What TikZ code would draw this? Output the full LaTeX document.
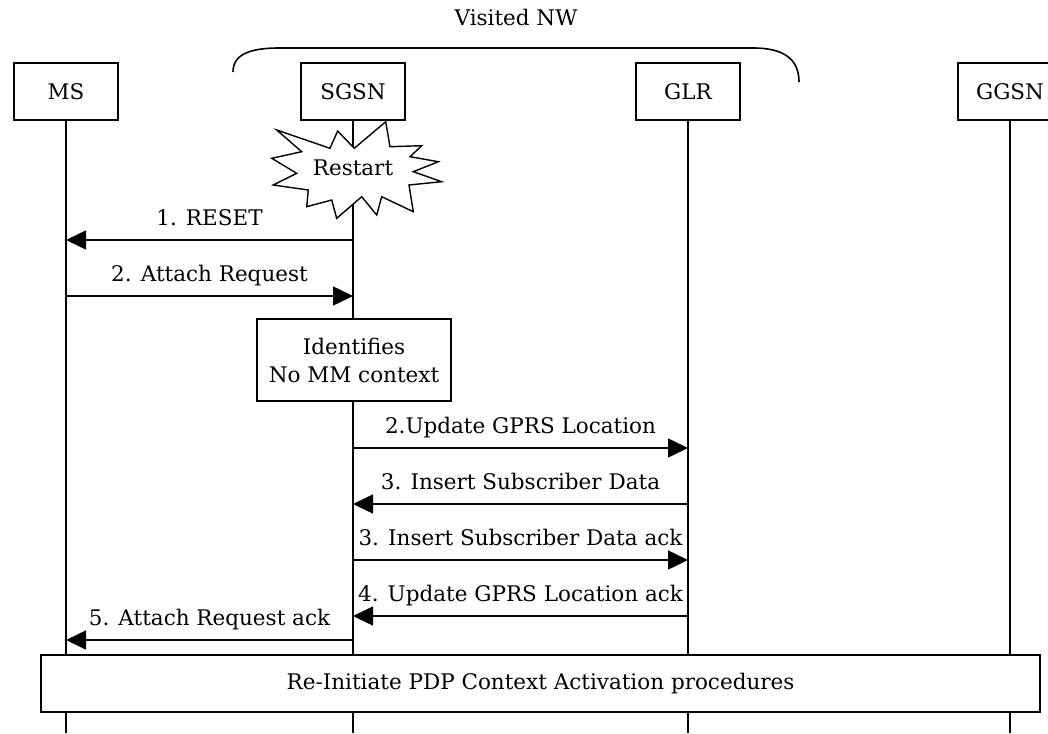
\documentclass[tikz,border=0pt]{standalone}
\usepackage{fontspec}
\setmainfont{DejaVu Serif}
\usetikzlibrary{arrows.meta}
\tikzset{
  entity/.style={draw, fill=white, line width=1.6pt, minimum width=104pt,
                 minimum height=57pt, inner sep=0pt},
  life/.style={line width=1.6pt},
  msg/.style={line width=1.6pt, -{Triangle[length=20pt,width=19pt]}},
  msgtxt/.style={anchor=base, yshift=15pt},
}
\begin{document}
\begin{tikzpicture}[x=1pt, y=-1pt, font=\fontsize{21.5pt}{28pt}\selectfont]
  \useasboundingbox (0,0) rectangle (1048,733);
  \clip (0,0) rectangle (1048,733);
  % Entities
  \node[entity] (ms)   at (66,91.5)   {MS};
  \node[entity] (sgsn) at (353,91.5)  {SGSN};
  \node[entity] (glr)  at (688,91.5)  {GLR};
  \node[entity] (ggsn) at (1010,91.5) {GGSN};
  % Visited network brace
  \node[anchor=base] (visited) at (516,26) {Visited NW};
  \draw[line width=1.6pt] (233,72) .. controls (233,52) and (255,48) .. (280,48)
    -- (753,48) .. controls (785,48) and (799,60) .. (799,82);
  % Lifelines
  \coordinate (bot) at (0,733);
  \foreach \e in {ms,sgsn,glr,ggsn}
    \draw[life] (\e.south) -- (\e.south |- bot);
  % Restart burst
  \draw[line width=1.4pt, fill=white, line join=miter]
    (385.7,121.7) -- (390,146.7) -- (421.7,145.7) -- (410,156.7)
    -- (438.3,161.7) -- (413.3,171.7) -- (441.7,181.7) -- (409,185)
    -- (413.3,211.7) -- (381.7,196.7) -- (376.7,215) -- (361.7,196.7)
    -- (336.7,218.3) -- (331.7,200) -- (306.7,206.7) -- (308.3,190)
    -- (273.3,185) -- (296.7,173.3) -- (271.7,158.3) -- (301.7,151.7)
    -- (276.7,130) -- (330,148.3) -- (337.7,131) -- (354.3,148.3) -- cycle;
  \node (restart) at (353,168) {Restart};
  % Message rows
  \coordinate (m1) at (0,240);
  \coordinate (m2) at (0,296);
  \coordinate (m3) at (0,448);
  \coordinate (m4) at (0,504);
  \coordinate (m5) at (0,560);
  \coordinate (m6) at (0,616);
  \coordinate (m7) at (0,640);
  % Messages
  \draw[msg] (sgsn |- m1) -- (ms |- m1)   node[msgtxt, midway] {1. RESET};
  \draw[msg] (ms |- m2)   -- (sgsn |- m2) node[msgtxt, midway] {2. Attach Request};
  \node[entity, minimum width=194pt, minimum height=82pt, align=center]
    (ident) at (354,360) {Identifies\\No MM context};
  \draw[msg] (sgsn |- m3) -- (glr |- m3)  node[msgtxt, midway] {2.Update GPRS Location};
  \draw[msg] (glr |- m4)  -- (sgsn |- m4) node[msgtxt, midway] {3. Insert Subscriber Data};
  \draw[msg] (sgsn |- m5) -- (glr |- m5)  node[msgtxt, midway] {3. Insert Subscriber Data ack};
  \draw[msg] (glr |- m6)  -- (sgsn |- m6) node[msgtxt, midway] {4. Update GPRS Location ack};
  \draw[msg] (sgsn |- m7) -- (ms |- m7)   node[msgtxt, midway] {5. Attach Request ack};
  % PDP context
  \node[entity, minimum width=999pt] (reinit) at (540.5,683.5)
    {Re-Initiate PDP Context Activation procedures};
\end{tikzpicture}
\end{document}
